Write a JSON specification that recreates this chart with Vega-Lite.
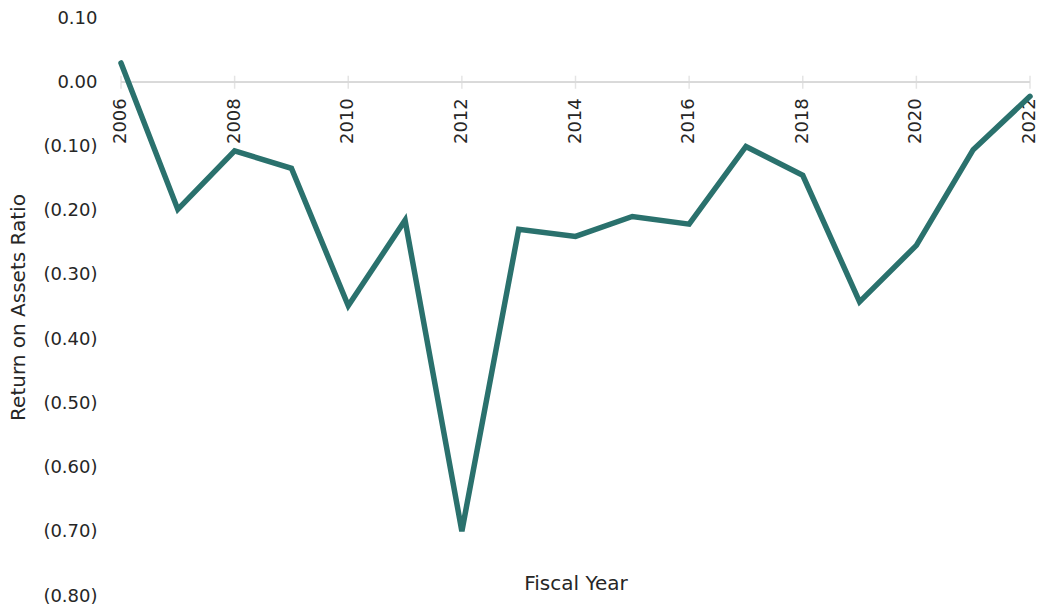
{
  "$schema": "https://vega.github.io/schema/vega-lite/v6.json",
  "width": 909,
  "height": 578,
  "autosize": "none",
  "padding": {"left": 121, "top": 18, "right": 12, "bottom": 13},
  "background": "white",
  "config": {
    "view": {"stroke": null},
    "font": "DejaVu Sans",
    "axis": {"labelFont": "DejaVu Sans", "titleFont": "DejaVu Sans", "labelColor": "#262626", "titleColor": "#262626", "titleFontWeight": "normal"}
  },
  "data": {
    "values": [
      {"year": 2006, "roa": 0.030},
      {"year": 2007, "roa": -0.198},
      {"year": 2008, "roa": -0.107},
      {"year": 2009, "roa": -0.134},
      {"year": 2010, "roa": -0.348},
      {"year": 2011, "roa": -0.215},
      {"year": 2012, "roa": -0.699},
      {"year": 2013, "roa": -0.229},
      {"year": 2014, "roa": -0.240},
      {"year": 2015, "roa": -0.209},
      {"year": 2016, "roa": -0.221},
      {"year": 2017, "roa": -0.100},
      {"year": 2018, "roa": -0.145},
      {"year": 2019, "roa": -0.342},
      {"year": 2020, "roa": -0.254},
      {"year": 2021, "roa": -0.105},
      {"year": 2022, "roa": -0.022}
    ]
  },
  "layer": [
    {
      "mark": {"type": "rule", "color": "#d9d9d9", "strokeWidth": 1.5},
      "encoding": {
        "x": {"datum": 2006, "type": "quantitative", "scale": {"domain": [2006, 2022], "nice": false, "zero": false},
              "axis": {"title": "Fiscal Year", "orient": "bottom", "domain": false, "ticks": false, "labels": false, "grid": false, "offset": -23, "titlePadding": 0, "titleFontSize": 20}},
        "x2": {"datum": 2022},
        "y": {"datum": 0, "type": "quantitative", "scale": {"domain": [-0.8, 0.1], "nice": false, "zero": false},
              "axis": {"title": "Return on Assets Ratio", "values": [0.1, 0, -0.1, -0.2, -0.3, -0.4, -0.5, -0.6, -0.7, -0.8],
                       "labelExpr": "datum.value < -0.0001 ? '(' + format(-datum.value, '.2f') + ')' : format(datum.value, '.2f')",
                       "domain": false, "ticks": false, "grid": false, "labelPadding": 24, "labelFontSize": 18, "titleFontSize": 20, "titlePadding": 14}}
      }
    },
    {
      "transform": [{"filter": "datum.year % 2 == 0"}],
      "mark": {"type": "tick", "orient": "vertical", "color": "#d9d9d9", "size": 13, "thickness": 1.5},
      "encoding": {
        "x": {"field": "year", "type": "quantitative"},
        "y": {"datum": 0, "type": "quantitative"}
      }
    },
    {
      "transform": [{"filter": "datum.year % 2 == 0"}],
      "mark": {"type": "text", "angle": 270, "align": "right", "baseline": "middle", "dx": -16, "fontSize": 18, "color": "#262626", "font": "DejaVu Sans"},
      "encoding": {
        "x": {"field": "year", "type": "quantitative"},
        "y": {"datum": 0, "type": "quantitative"},
        "text": {"field": "year", "type": "nominal"}
      }
    },
    {
      "mark": {"type": "line", "color": "#2a716d", "strokeWidth": 5.5, "strokeCap": "round", "strokeJoin": "miter"},
      "encoding": {
        "x": {"field": "year", "type": "quantitative"},
        "y": {"field": "roa", "type": "quantitative"}
      }
    }
  ]
}
